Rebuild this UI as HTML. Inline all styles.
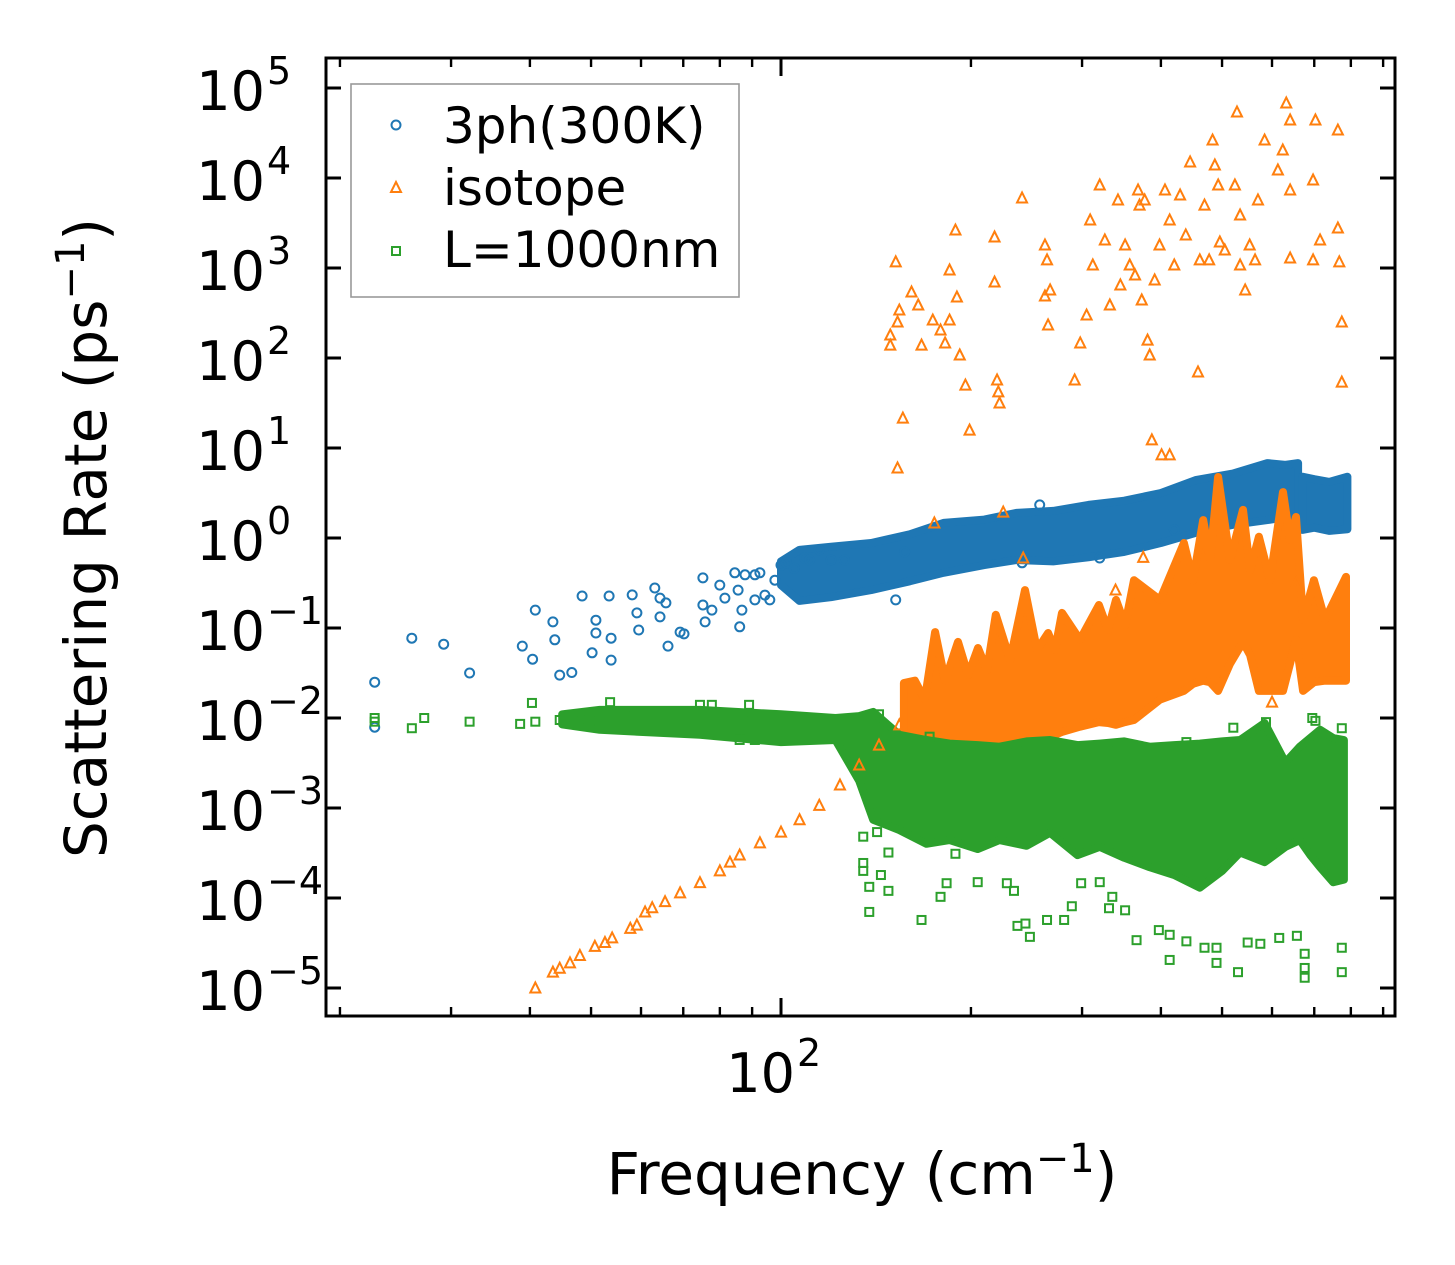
<!DOCTYPE html>
<html><head><meta charset="utf-8"><title>Scattering Rate vs Frequency</title>
<style>
html,body{margin:0;padding:0;background:#fff;}
svg{display:block;}
text{font-family:"DejaVu Sans","Liberation Sans",sans-serif;fill:#000;}
</style></head>
<body>
<svg id="chart" width="1455" height="1265" viewBox="0 0 1455 1265" xmlns="http://www.w3.org/2000/svg">
<rect x="0" y="0" width="1455" height="1265" fill="#fff"/>
<g id="bands"></g>
<g id="marks"></g>
<g id="axes"></g>
<g id="legend">
  <rect x="351" y="84" width="388" height="213" fill="#fff" fill-opacity="0.8" stroke="#999" stroke-width="1.6"/>
  <circle cx="396" cy="125" r="4.5" fill="none" stroke="#1f77b4" stroke-width="2"/>
  <text x="443" y="143" font-size="50">3ph(300K)</text>
  <polygon points="396,182 391,192 401,192" fill="none" stroke="#ff7f0e" stroke-width="2"/>
  <text x="443" y="205" font-size="50">isotope</text>
  <rect x="392" y="247" width="8" height="8" fill="none" stroke="#2ca02c" stroke-width="2"/>
  <text x="443" y="267" font-size="50">L=1000nm</text>
</g>
<text x="106" y="538" font-size="58" text-anchor="middle" transform="rotate(-90 106 538)">Scattering Rate (ps<tspan dy="-22" font-size="40">−1</tspan><tspan dy="22">)</tspan></text>
<text x="862" y="1194" font-size="58" text-anchor="middle">Frequency (cm<tspan dy="-22" font-size="40">−1</tspan><tspan dy="22">)</tspan></text>
</svg>
<script>
// ---------- data ----------
const blueF = [22.7,22.7,26.0,29.2,32.1,38.9,40.4,40.8,43.5,43.8,44.6,46.6,48.4,50.9,50.9,50.2,53.4,53.8,53.8,58.1,59.1,59.5,63.1,64.3,64.3,65.7,66.2,69.2,70.2,75.2,75.2,75.8,77.7,80,81.5,84.5,85.5,86,86.7,87.7,90.9,90.9,92.6,94.3,96,97.8,100,102,105,109,111,115,120,126,152,157,241,320,420,257];
const blueR = [0.025,0.0079,0.077,0.066,0.0316,0.063,0.045,0.158,0.117,0.074,0.030,0.032,0.227,0.122,0.088,0.053,0.227,0.077,0.044,0.233,0.147,0.095,0.278,0.215,0.133,0.19,0.063,0.09,0.086,0.36,0.18,0.117,0.158,0.3,0.215,0.41,0.264,0.103,0.158,0.39,0.39,0.205,0.41,0.232,0.205,0.34,0.5,0.53,0.46,0.6,0.57,0.74,0.57,0.57,0.205,0.7,0.53,0.6,1.23,2.33];
const blueBandF  = [100,107,120,139,160,181,210,236,270,307,350,400,454,520,590,630,660];
const blueBandLo = [0.3,0.2,0.22,0.264,0.33,0.41,0.5,0.57,0.55,0.61,0.7,0.88,1.14,1.4,1.58,1.7,1.71];
const blueBandHi = [0.55,0.74,0.8,0.88,1.1,1.47,1.6,1.9,2.0,2.33,2.6,3.16,4.4,5.2,6.8,6.5,6.8];
const blueBand2F  = [670,700,740,790];
const blueBand2Lo = [1.23,1.3,1.2,1.25];
const blueBand2Hi = [4.8,4.5,4.2,4.8];

const isoF = [40.8,43.5,44.6,46.3,48.0,50.7,52.6,54,57.7,59.1,60.9,62.5,65.5,69.2,74.4,80,83,86,92.6,100,107,115,124,133,143,154,
 149,149,152,153,154,153,156,161,165,167,174,179,182,185,185,189,190,192,196,199,218,218,220,221,222,241,262,262,264,265,267,292,298,305,309,312,320,326,332,342,345,351,357,364,368,370,373,377,381,384,387,391,398,401,406,413,420,429,438,445,458,461,469,477,483,487,493,496,505,524,528,534,534,544,564,570,584,613,624,632,641,641,697,697,703,763,763,767,774,774,715,641,553,413,
 175,225,242,375,339,319,600,656];
const isoR = [1.0e-5,1.5e-5,1.66e-5,1.9e-5,2.3e-5,2.9e-5,3.2e-5,3.6e-5,4.6e-5,5.0e-5,7.0e-5,7.8e-5,9.1e-5,1.14e-4,1.48e-4,2.0e-4,2.5e-4,3.0e-4,4.1e-4,5.4e-4,7.4e-4,1.07e-3,1.8e-3,3.0e-3,5.0e-3,8.4e-3,
 180,139,1170,251,341,6.0,21.5,541,388,139,264,205,147,950,264,2640,476,108,50,15.8,2210,698,57,42,31.6,6000,489,1800,1230,233,570,57,147,300,3420,1080,8360,2050,388,5700,648,1800,1080,836,7360,5000,441,5700,158,108,12.3,736,1800,8.4,7360,3420,1080,6470,2330,15070,70,1230,5000,1230,26400,13940,8360,1945,1585,8360,54100,3880,1080,570,1230,5700,26400,12270,20460,68100,44100,7360,9500,1230,44100,34100,2780,1170,251,54,2050,1290,1800,8.4,
 1.47,1.94,0.6,0.61,0.264,0.147,0.015,0.32];
const isoBandF  = [156.6,163,169,175.5,182,190.8,197.9,205.2,212.1,219,230.7,243.6,254.5,265,271.8,278.8,297.7,319,329.8,339.6,351,362.6,398.7,435,449.7,466.7,478.6,492.8,514.8,539.8,553.8,572,595.7,624.6,640.8,655,672,699,728,786];
const isoBandLo = [0.0044,0.0044,0.004,0.0037,0.0037,0.0037,0.004,0.0042,0.0044,0.0044,0.005,0.0057,0.006,0.0065,0.0065,0.007,0.008,0.009,0.0088,0.0084,0.009,0.0095,0.016,0.02,0.024,0.026,0.025,0.02,0.04,0.07,0.05,0.02,0.02,0.02,0.04,0.074,0.02,0.025,0.026,0.026];
const isoBandHi = [0.0245,0.026,0.016,0.09,0.026,0.07,0.03,0.06,0.034,0.14,0.044,0.264,0.057,0.088,0.057,0.147,0.074,0.18,0.095,0.205,0.108,0.34,0.205,0.88,0.34,1.58,0.57,4.76,0.57,2.05,0.44,1.03,0.34,3.24,0.95,1.71,0.123,0.34,0.123,0.37];

const bndF = [22.7,22.7,26,27.2,32.1,38.6,40.3,40.8,44.6,49.8,51.6,53.6,58.1,74.4,77.7,86,90.9,89,143,172,
 135,142,135,135,144,138,148,138,148,167,179,183,189,205,228,234,237,244,248,264,281,289,299,320,331,335,351,366,397,413,413,439,469,490,490,530,549,575,616,657,676,676,676,774,774,
 521,703,439,587,774,695];
const bndR = [0.01,0.0091,0.0077,0.01,0.0091,0.0086,0.0147,0.0091,0.0095,0.01,0.0091,0.015,0.011,0.014,0.014,0.0057,0.0057,0.014,0.011,0.0062,
 4.8e-4,5.4e-4,2.45e-4,2.0e-4,1.8e-4,1.33e-4,1.2e-4,7.0e-5,3.2e-4,5.7e-5,1.03e-4,1.46e-4,3.1e-4,1.5e-4,1.46e-4,1.2e-4,4.9e-5,5.2e-5,3.7e-5,5.7e-5,5.7e-5,8.1e-5,1.46e-4,1.5e-4,7.7e-5,1.03e-4,7.3e-5,3.4e-5,4.4e-5,2.05e-5,3.9e-5,3.3e-5,2.8e-5,2.8e-5,1.9e-5,1.5e-5,3.2e-5,3.1e-5,3.6e-5,3.8e-5,2.4e-5,1.67e-5,1.3e-5,2.8e-5,1.5e-5,
 0.0078,0.0093,0.0054,0.009,0.0077,0.01];
const bndBandF  = [45,51.6,74.4,100,122,133,140,154,170,185,205,222,245,267,295,320,350,384,420,461,500,534,584,630,664,690,715,750,780];
const bndBandLo = [0.0085,0.0074,0.0065,0.0054,0.0057,0.002,7.4e-4,5.7e-4,4.0e-4,4.4e-4,3.5e-4,4.4e-4,3.8e-4,5.3e-4,3.0e-4,3.7e-4,2.8e-4,2.2e-4,1.8e-4,1.3e-4,2.0e-4,3.2e-4,2.5e-4,3.7e-4,4.4e-4,3.0e-4,2.2e-4,1.5e-4,1.6e-4];
const bndBandHi = [0.011,0.0123,0.0123,0.011,0.01,0.0105,0.0117,0.0065,0.0057,0.0052,0.0050,0.0048,0.0055,0.0057,0.005,0.0052,0.0055,0.0048,0.005,0.0052,0.0055,0.0057,0.0088,0.0032,0.0048,0.006,0.0074,0.006,0.0057];

const yTickExps = [-5,-4,-3,-2,-1,0,1,2,3,4,5];
const xMinorTicks = [20,30,40,50,60,70,80,90,200,300,400,500,600,700,800,900];
const xMajorTicks = [100];

// ---------- axes ----------
const PL=326, PR=1395, PT=58, PB=1016;
function xs(f){ return 781 + 631*Math.log10(f/100); }
function ys(v){ return 538 - 90*Math.log10(v); }
const NS="http://www.w3.org/2000/svg";
function mk(tag, attrs, parent){ const e=document.createElementNS(NS,tag); for(const k in attrs) e.setAttribute(k,attrs[k]); parent.appendChild(e); return e; }

const bands=document.getElementById('bands'), marks=document.getElementById('marks'), axes=document.getElementById('axes');

function band(F,Lo,Hi,color,name){
  const pts=[];
  for(let i=0;i<F.length;i++) pts.push(xs(F[i]).toFixed(1)+','+ys(Hi[i]).toFixed(1));
  for(let i=F.length-1;i>=0;i--) pts.push(xs(F[i]).toFixed(1)+','+ys(Lo[i]).toFixed(1));
  const p=mk('polygon',{points:pts.join(' '),fill:color,stroke:color,'stroke-width':8,'stroke-linejoin':'round'},bands);
  
  
}
function circles(F,R){
  for(let i=0;i<F.length;i++){
    const c=mk('circle',{cx:xs(F[i]).toFixed(1),cy:ys(R[i]).toFixed(1),r:4.5,fill:'none',stroke:'#1f77b4','stroke-width':2},marks);
    
    
  }
}
function tris(F,R){
  for(let i=0;i<F.length;i++){
    const x=xs(F[i]), y=ys(R[i]);
    const t=mk('polygon',{points:`${x},${y-5.5} ${x-5},${y+4.5} ${x+5},${y+4.5}`,fill:'none',stroke:'#ff7f0e','stroke-width':2},marks);
    
    
  }
}
function squares(F,R){
  for(let i=0;i<F.length;i++){
    const x=xs(F[i]), y=ys(R[i]);
    const s=mk('rect',{x:x-4,y:y-4,width:8,height:8,fill:'none',stroke:'#2ca02c','stroke-width':2},marks);
    
    
  }
}
band(blueBandF,blueBandLo,blueBandHi,'#1f77b4','band-3ph');
band(blueBand2F,blueBand2Lo,blueBand2Hi,'#1f77b4','band-3ph-high');
circles(blueF,blueR);
band(isoBandF,isoBandLo,isoBandHi,'#ff7f0e','band-isotope');
tris(isoF,isoR);
band(bndBandF,bndBandLo,bndBandHi,'#2ca02c','band-boundary');
squares(bndF,bndR);

const fr=mk('rect',{x:PL,y:PT,width:PR-PL,height:PB-PT,fill:'none',stroke:'#000','stroke-width':3},axes);


yTickExps.forEach(e=>{
  const y=ys(Math.pow(10,e));
  const t1=mk('line',{x1:PL,y1:y,x2:PL+15,y2:y,stroke:'#000','stroke-width':3},axes);
  
  
  const t2=mk('line',{x1:PR,y1:y,x2:PR-15,y2:y,stroke:'#000','stroke-width':3},axes);
  
  
  const lbl=mk('text',{x:265,y:y+22,'font-size':54,'text-anchor':'end'},axes);
  lbl.textContent='10';
  
  
  const sup=mk('text',{x:267,y:y-4,'font-size':38,'text-anchor':'start'},axes);
  sup.textContent=(e<0?'−':'')+Math.abs(e);
  
  
});
xMinorTicks.forEach(f=>{
  const x=xs(f);
  const a=mk('line',{x1:x,y1:PB,x2:x,y2:PB-9,stroke:'#000','stroke-width':2.4},axes);
  
  
  const b=mk('line',{x1:x,y1:PT,x2:x,y2:PT+9,stroke:'#000','stroke-width':2.4},axes);
  
  
});
xMajorTicks.forEach(f=>{
  const x=xs(f);
  const a=mk('line',{x1:x,y1:PB,x2:x,y2:PB-18,stroke:'#000','stroke-width':3},axes);
  
  
  const b=mk('line',{x1:x,y1:PT,x2:x,y2:PT+18,stroke:'#000','stroke-width':3},axes);
  
  
  const lbl=mk('text',{x:x+14,y:1092,'font-size':54,'text-anchor':'end'},axes);
  lbl.textContent='10';
  
  
  const sup=mk('text',{x:x+16,y:1066,'font-size':38},axes);
  sup.textContent=String(Math.round(Math.log10(f)));
  
  
});
</script>
</body></html>
